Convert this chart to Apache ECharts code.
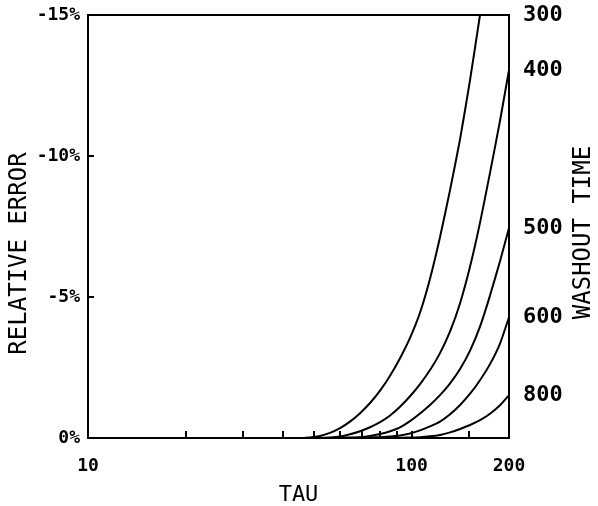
<!DOCTYPE html>
<html>
<head>
<meta charset="utf-8">
<script src="https://cdn.jsdelivr.net/npm/echarts@6/dist/echarts.min.js"></script>
<style>
	html, body { margin: 0; padding: 0; background: #fff; }
	#chart01 { width: 598px; height: 506px; }
</style>
</head>
<body>
<div id="chart01"></div>
<script>
// TAU 값 (공통 x)
const tauValues = [45.2, 48.5, 52.1, 55.9, 60.1, 64.5, 69.3, 74.4, 79.9, 85.8, 92.1, 98.9, 106.2, 114.0, 122.4, 131.5, 141.2, 151.6, 162.7, 174.7, 187.6, 200];

// WASHOUT TIME 별 상대오차(%) - 그림에서 읽은 값
const err300 = [0, -0.02, -0.07, -0.18, -0.35, -0.58, -0.88, -1.24, -1.68, -2.21, -2.83, -3.55, -4.45, -5.65, -7.12, -8.8, -10.6, -12.7, -15, null, null, null];
const err400 = [null, 0, -0.01, -0.02, -0.05, -0.13, -0.24, -0.38, -0.56, -0.8, -1.11, -1.48, -1.91, -2.41, -3.01, -3.78, -4.78, -6.08, -7.63, -9.4, -11.25, -13.05];
const err500 = [null, null, null, 0, -0.01, -0.02, -0.03, -0.07, -0.14, -0.24, -0.38, -0.6, -0.87, -1.17, -1.52, -1.94, -2.45, -3.1, -3.95, -5.05, -6.27, -7.45];
const err600 = [null, null, null, null, null, 0, -0.01, -0.02, -0.03, -0.05, -0.09, -0.16, -0.27, -0.41, -0.58, -0.84, -1.17, -1.57, -2.05, -2.62, -3.35, -4.28];
const err800 = [null, null, null, null, null, null, null, null, 0, -0.01, -0.01, -0.02, -0.03, -0.06, -0.11, -0.2, -0.32, -0.46, -0.63, -0.86, -1.16, -1.52];

// 오른쪽 WASHOUT TIME 라벨
const washoutLabels = ['300', '400', '500', '600', '800'];

// 축 눈금
const xLabelValues = [10, 100, 200];
const xTickValues = [20, 30, 40, 50, 60, 70, 80, 90, 100, 150];

const CHART_M01 = {
	targetElId: 'chart01',
	init: function() {
		this.setChart01();
	},
	// tau 배열과 값 배열을 [x, y] 쌍으로 변환 (null 은 제외)
	toPairs: function(xs, ys) {
		return xs.map((x, i) => [x, ys[i]]).filter(p => p[1] !== null);
	},
	setChart01: function() {
		const curves = [err300, err400, err500, err600, err800];
		// 각 곡선의 끝값 = 오른쪽 라벨 위치
		const endValues = curves.map(c => {
			const vals = c.filter(v => v !== null);
			return Math.max(vals[vals.length - 1], -15);
		});

		const labelFont = 'DejaVu Sans Mono';

		const option = {
			animation: false,
			backgroundColor: '#fff',
			grid: {
				left: 88,
				right: 89,
				top: 15,
				bottom: 68,
				show: true,
				borderColor: '#000',
				borderWidth: 2,
				containLabel: false,
				outerBoundsMode: 'none',
			},
			xAxis: {
				type: 'log',
				logBase: 10,
				min: 10,
				max: 200,
				name: 'TAU',
				nameLocation: 'middle',
				nameGap: 46,
				nameMoveOverlap: false,
				nameTextStyle: { color: '#000', fontFamily: labelFont, fontSize: 22 },
				axisLine: { show: true, lineStyle: { color: '#000', width: 2 } },
				axisTick: {
					show: true,
					inside: true,
					length: 7,
					customValues: xTickValues,
					lineStyle: { color: '#000', width: 2 },
				},
				axisLabel: {
					customValues: xLabelValues,
					margin: 19,
					color: '#000',
					fontFamily: labelFont,
					fontWeight: 'bold',
					fontSize: 18,
				},
				splitLine: { show: false },
				minorTick: { show: false },
			},
			yAxis: [
				{
					type: 'value',
					min: -15,
					max: 0,
					interval: 5,
					inverse: true,
					position: 'left',
					name: 'RELATIVE ERROR',
					nameLocation: 'middle',
					nameRotate: 90,
					nameGap: 56,
					nameMoveOverlap: false,
					nameTextStyle: {
						color: '#000',
						fontFamily: labelFont,
						fontSize: 24,
						padding: [0, 54, 0, 0],  // 아래쪽으로 약간 이동
					},
					axisLine: { show: true, lineStyle: { color: '#000', width: 2 } },
					axisTick: { show: true, inside: true, length: 6, lineStyle: { color: '#000', width: 2 } },
					axisLabel: {
						margin: 8,
						color: '#000',
						fontFamily: labelFont,
						fontWeight: 'bold',
						fontSize: 18,
						formatter: v => v + '%',
					},
					splitLine: { show: false },
				},
				{
					type: 'value',
					min: -15,
					max: 0,
					inverse: true,
					position: 'right',
					name: 'WASHOUT TIME',
					nameLocation: 'middle',
					nameRotate: 90,
					nameGap: 63,
					nameMoveOverlap: false,
					nameTextStyle: {
						color: '#000',
						fontFamily: labelFont,
						fontSize: 24,
						padding: [0, 12, 0, 0],
					},
					axisLine: { show: true, lineStyle: { color: '#000', width: 2 } },
					axisTick: { show: false },
					axisLabel: {
						customValues: endValues,
						margin: 14,
						color: '#000',
						fontFamily: labelFont,
						fontWeight: 'bold',
						fontSize: 22,
						formatter: function(value) {
							let idx = 0;
							endValues.forEach((v, i) => {
								if (Math.abs(v - value) < Math.abs(endValues[idx] - value)) idx = i;
							});
							return washoutLabels[idx];
						},
					},
					splitLine: { show: false },
				},
			],
			series: curves.map((c, i) => ({
				name: washoutLabels[i],
				type: 'line',
				yAxisIndex: 0,
				data: this.toPairs(tauValues, c),
				showSymbol: false,
				smooth: 0.2,
				lineStyle: { color: '#000', width: 2 },
			})),
		};

		const myChart = echarts.init(
			document.getElementById(this.targetElId),
			null,
			{ renderer: 'canvas' }
		);
		myChart.setOption(option);

		window.addEventListener('resize', myChart.resize);
	},
};

CHART_M01.init();
</script>
</body>
</html>
